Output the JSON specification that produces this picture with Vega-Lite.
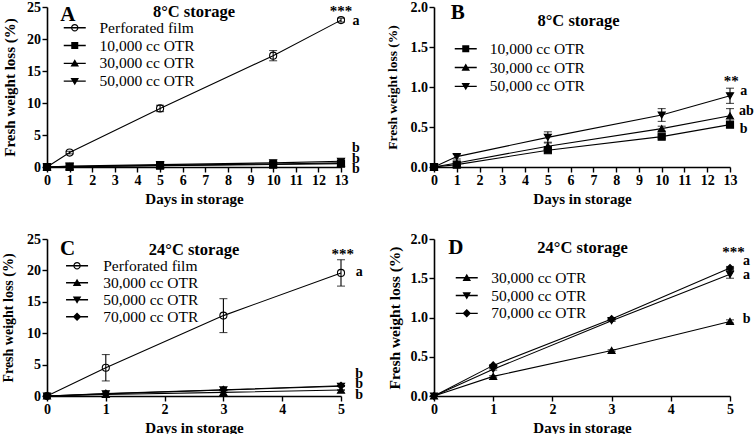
{
  "$schema": "https://vega.github.io/schema/vega-lite/v6.json",
  "padding": {"left": 1, "top": 0, "right": 0, "bottom": 0},
  "background": "white",
  "datasets": {
    "d8": [
      {"series": "Perforated film", "day": 0, "loss": 0, "err": 0},
      {"series": "Perforated film", "day": 1, "loss": 2.25, "err": 0.2},
      {"series": "Perforated film", "day": 5, "loss": 9.15, "err": 0.5},
      {"series": "Perforated film", "day": 10, "loss": 17.4, "err": 0.8},
      {"series": "Perforated film", "day": 13, "loss": 22.95, "err": 0.3},
      {"series": "10,000 cc OTR", "day": 0, "loss": 0, "err": 0},
      {"series": "10,000 cc OTR", "day": 1, "loss": 0.03, "err": 0},
      {"series": "10,000 cc OTR", "day": 5, "loss": 0.21, "err": 0.02},
      {"series": "10,000 cc OTR", "day": 10, "loss": 0.38, "err": 0.02},
      {"series": "10,000 cc OTR", "day": 13, "loss": 0.53, "err": 0.03},
      {"series": "30,000 cc OTR", "day": 0, "loss": 0, "err": 0},
      {"series": "30,000 cc OTR", "day": 1, "loss": 0.05, "err": 0},
      {"series": "30,000 cc OTR", "day": 5, "loss": 0.26, "err": 0.05},
      {"series": "30,000 cc OTR", "day": 10, "loss": 0.48, "err": 0.03},
      {"series": "30,000 cc OTR", "day": 13, "loss": 0.64, "err": 0.09},
      {"series": "50,000 cc OTR", "day": 0, "loss": 0, "err": 0},
      {"series": "50,000 cc OTR", "day": 1, "loss": 0.13, "err": 0.03},
      {"series": "50,000 cc OTR", "day": 5, "loss": 0.37, "err": 0.07},
      {"series": "50,000 cc OTR", "day": 10, "loss": 0.65, "err": 0.08},
      {"series": "50,000 cc OTR", "day": 13, "loss": 0.89, "err": 0.095}
    ],
    "d24": [
      {"series": "Perforated film", "day": 0, "loss": 0, "err": 0},
      {"series": "Perforated film", "day": 1, "loss": 4.5, "err": 2.1},
      {"series": "Perforated film", "day": 3, "loss": 12.8, "err": 2.7},
      {"series": "Perforated film", "day": 5, "loss": 19.6, "err": 2.1},
      {"series": "30,000 cc OTR", "day": 0, "loss": 0, "err": 0},
      {"series": "30,000 cc OTR", "day": 1, "loss": 0.25, "err": 0.01},
      {"series": "30,000 cc OTR", "day": 3, "loss": 0.58, "err": 0.01},
      {"series": "30,000 cc OTR", "day": 5, "loss": 0.95, "err": 0.02},
      {"series": "50,000 cc OTR", "day": 0, "loss": 0, "err": 0},
      {"series": "50,000 cc OTR", "day": 1, "loss": 0.34, "err": 0.01},
      {"series": "50,000 cc OTR", "day": 3, "loss": 0.96, "err": 0.01},
      {"series": "50,000 cc OTR", "day": 5, "loss": 1.55, "err": 0.05},
      {"series": "70,000 cc OTR", "day": 0, "loss": 0, "err": 0},
      {"series": "70,000 cc OTR", "day": 1, "loss": 0.39, "err": 0.01},
      {"series": "70,000 cc OTR", "day": 3, "loss": 0.98, "err": 0.01},
      {"series": "70,000 cc OTR", "day": 5, "loss": 1.63, "err": 0.02}
    ],
    "annA": [
      {"kind": "panel", "label": "A", "day": 0.92, "v": 23.75},
      {"kind": "title", "label": "8°C storage", "day": 6.5, "v": 24.2},
      {"kind": "stars", "label": "***", "day": 13.0, "v": 24.3},
      {"kind": "letter", "label": "a", "day": 13.66, "v": 22.8},
      {"kind": "letter", "label": "b", "day": 13.66, "v": 3.0},
      {"kind": "letter", "label": "b", "day": 13.66, "v": 1.3},
      {"kind": "letter", "label": "b", "day": 13.66, "v": -0.3}
    ],
    "annB": [
      {"kind": "panel", "label": "B", "day": 1.04, "v": 1.93},
      {"kind": "title", "label": "8°C storage", "day": 6.35, "v": 1.82},
      {"kind": "stars", "label": "**", "day": 13.05, "v": 1.07},
      {"kind": "letter", "label": "a", "day": 13.6, "v": 0.95},
      {"kind": "letter", "label": "ab", "day": 13.72, "v": 0.7},
      {"kind": "letter", "label": "b", "day": 13.6, "v": 0.48}
    ],
    "annC": [
      {"kind": "panel", "label": "C", "day": 0.35, "v": 23.4},
      {"kind": "title", "label": "24°C storage", "day": 2.5, "v": 23.2},
      {"kind": "stars", "label": "***", "day": 5.03, "v": 22.6},
      {"kind": "letter", "label": "a", "day": 5.31, "v": 19.7},
      {"kind": "letter", "label": "b", "day": 5.31, "v": 3.55},
      {"kind": "letter", "label": "b", "day": 5.31, "v": 1.96},
      {"kind": "letter", "label": "b", "day": 5.31, "v": 0.2}
    ],
    "annD": [
      {"kind": "panel", "label": "D", "day": 0.37, "v": 1.88},
      {"kind": "title", "label": "24°C storage", "day": 2.51, "v": 1.885},
      {"kind": "stars", "label": "***", "day": 5.06, "v": 1.84},
      {"kind": "letter", "label": "a", "day": 5.28, "v": 1.72},
      {"kind": "letter", "label": "a", "day": 5.28, "v": 1.545},
      {"kind": "letter", "label": "b", "day": 5.28, "v": 0.985}
    ]
  },
  "columns": 2,
  "bounds": "flush",
  "spacing": {"row": 72, "column": 93},
  "resolve": {
    "scale": {"x": "independent", "y": "independent", "shape": "independent", "size": "independent"},
    "legend": {"shape": "independent"},
    "axis": {"x": "independent", "y": "independent"}
  },
  "concat": [
    {
      "width": 294, "height": 160,
      "resolve": {"scale": {"shape": "independent"}},
      "encoding": {
        "x": {"field": "day", "type": "quantitative", "scale": {"domain": [0, 13], "nice": false},
              "axis": {"values": [0,1,2,3,4,5,6,7,8,9,10,11,12,13], "title": "Days in storage", "titlePadding": 4}},
        "y": {"field": "loss", "type": "quantitative", "scale": {"domain": [0, 25], "nice": false},
              "axis": {"values": [0,5,10,15,20,25], "format": "d", "title": "Fresh weight loss (%)", "titlePadding": 9.5, "titleFontSize": 15}}
      },
      "layer": [
        {
          "data": {"name": "d8"},
          "mark": {"type": "line", "color": "black", "strokeWidth": 1.1},
          "encoding": {"detail": {"field": "series"}}
        },
        {
          "data": {"name": "d8"},
          "transform": [{"filter": "datum.err > 0"}],
          "mark": {"type": "errorbar", "ticks": {"size": 8}, "color": "black", "thickness": 1.1},
          "encoding": {"yError": {"field": "err"}}
        },
        {
          "data": {"name": "d8"},
          "mark": {"type": "point", "filled": true, "stroke": "black", "strokeWidth": 1.1, "opacity": 1, "size": 50},
          "encoding": {
            "fill": {"condition": {"test": "datum.series === 'Perforated film'", "value": "transparent"}, "value": "black"},
            "shape": {"field": "series", "type": "nominal", "legend": null,
              "scale": {"domain": ["Perforated film", "10,000 cc OTR", "30,000 cc OTR", "50,000 cc OTR"], "range": ["circle", "square", "triangle-up", "triangle-down"]}}
          }
        },
        {
          "data": {"name": "d8"},
          "mark": {"type": "point", "filled": true, "color": "black", "size": 0},
          "encoding": {
            "shape": {"field": "series", "type": "nominal",
              "scale": {"domain": ["Perforated film", "10,000 cc OTR", "30,000 cc OTR", "50,000 cc OTR"],
                "range": ["M-2.2,-0.14H2.2V0.14H-2.2ZM0.74,0A0.74,0.74,0,1,1,-0.74,0A0.74,0.74,0,1,1,0.74,0ZM0.52,0A0.52,0.52,0,1,0,-0.52,0A0.52,0.52,0,1,0,0.52,0Z", "M-2.2,-0.14H2.2V0.14H-2.2ZM-0.7,-0.7H0.7V0.7H-0.7Z", "M-2.2,-0.14H2.2V0.14H-2.2ZM0,-0.8L0.85,0.65H-0.85Z", "M-2.2,-0.14H2.2V0.14H-2.2ZM0,0.8L-0.85,-0.65H0.85Z"]},
              "legend": {"orient": "none", "legendX": 20, "legendY": 13, "title": null, "padding": 0, "symbolSize": 100, "symbolOffset": 0, "labelOffset": 17, "rowPadding": 0.8, "labelFontSize": 15.5, "labelFont": "Liberation Serif", "labelFontWeight": "normal", "labelColor": "black", "symbolOpacity": 1, "symbolFillColor": "black", "symbolStrokeColor": "transparent", "symbolStrokeWidth": 0}
            }
          }
        },
        {
          "data": {"name": "annA"},
          "mark": {"type": "text", "fontWeight": "bold", "color": "black", "font": "Liberation Serif", "baseline": "middle", "align": "center"},
          "encoding": {
            "y": {"field": "v", "type": "quantitative", "scale": {"domain": [0, 25], "nice": false},
                  "axis": {"values": [0,5,10,15,20,25], "format": "d", "title": "Fresh weight loss (%)", "titlePadding": 9.5, "titleFontSize": 15}},
            "text": {"field": "label"},
            "size": {"field": "kind", "type": "nominal", "scale": {"type": "ordinal", "domain": ["panel", "title", "letter", "stars"], "range": [21, 16.5, 14, 15]}, "legend": null}
          }
        }
      ]
    },
    {
      "width": 296, "height": 160,
      "resolve": {"scale": {"shape": "independent"}},
      "encoding": {
        "x": {"field": "day", "type": "quantitative", "scale": {"domain": [0, 13], "nice": false},
              "axis": {"values": [0,1,2,3,4,5,6,7,8,9,10,11,12,13], "title": "Days in storage", "titlePadding": 4}},
        "y": {"field": "loss", "type": "quantitative", "scale": {"domain": [0, 2], "nice": false},
              "axis": {"values": [0,0.5,1,1.5,2], "format": ".1f", "title": "Fresh weight loss (%)", "titlePadding": 11, "titleFontSize": 13.5}}
      },
      "layer": [
        {
          "data": {"name": "d8"},
          "transform": [{"filter": "datum.series !== 'Perforated film'"}],
          "mark": {"type": "line", "color": "black", "strokeWidth": 1.1},
          "encoding": {"detail": {"field": "series"}}
        },
        {
          "data": {"name": "d8"},
          "transform": [{"filter": "datum.series !== 'Perforated film' && datum.err > 0"}],
          "mark": {"type": "errorbar", "ticks": {"size": 8}, "color": "black", "thickness": 1.1},
          "encoding": {"yError": {"field": "err"}}
        },
        {
          "data": {"name": "d8"},
          "transform": [{"filter": "datum.series !== 'Perforated film'"}],
          "mark": {"type": "point", "filled": true, "stroke": "black", "strokeWidth": 1.1, "opacity": 1, "size": 50},
          "encoding": {
            "fill": {"value": "black"},
            "shape": {"field": "series", "type": "nominal", "legend": null,
              "scale": {"domain": ["10,000 cc OTR", "30,000 cc OTR", "50,000 cc OTR"], "range": ["square", "triangle-up", "triangle-down"]}}
          }
        },
        {
          "data": {"name": "d8"},
          "transform": [{"filter": "datum.series !== 'Perforated film'"}],
          "mark": {"type": "point", "filled": true, "color": "black", "size": 0},
          "encoding": {
            "shape": {"field": "series", "type": "nominal",
              "scale": {"domain": ["10,000 cc OTR", "30,000 cc OTR", "50,000 cc OTR"],
                "range": ["M-2.2,-0.14H2.2V0.14H-2.2ZM-0.7,-0.7H0.7V0.7H-0.7Z", "M-2.2,-0.14H2.2V0.14H-2.2ZM0,-0.8L0.85,0.65H-0.85Z", "M-2.2,-0.14H2.2V0.14H-2.2ZM0,0.8L-0.85,-0.65H0.85Z"]},
              "legend": {"orient": "none", "legendX": 24, "legendY": 34, "title": null, "padding": 0, "symbolSize": 100, "symbolOffset": 0, "labelOffset": 16.3, "rowPadding": 1.8, "labelFontSize": 15.5, "labelFont": "Liberation Serif", "labelFontWeight": "normal", "labelColor": "black", "symbolOpacity": 1, "symbolFillColor": "black", "symbolStrokeColor": "transparent", "symbolStrokeWidth": 0}
            }
          }
        },
        {
          "data": {"name": "annB"},
          "mark": {"type": "text", "fontWeight": "bold", "color": "black", "font": "Liberation Serif", "baseline": "middle", "align": "center"},
          "encoding": {
            "y": {"field": "v", "type": "quantitative", "scale": {"domain": [0, 2], "nice": false},
                  "axis": {"values": [0,0.5,1,1.5,2], "format": ".1f", "title": "Fresh weight loss (%)", "titlePadding": 11, "titleFontSize": 13.5}},
            "text": {"field": "label"},
            "size": {"field": "kind", "type": "nominal", "scale": {"type": "ordinal", "domain": ["panel", "title", "letter", "stars"], "range": [21, 16.5, 14, 15]}, "legend": null}
          }
        }
      ]
    },
    {
      "width": 294, "height": 157,
      "resolve": {"scale": {"shape": "independent"}},
      "encoding": {
        "x": {"field": "day", "type": "quantitative", "scale": {"domain": [0, 5], "nice": false},
              "axis": {"values": [0,1,2,3,4,5], "format": "d", "title": "Days in storage", "titlePadding": 4}},
        "y": {"field": "loss", "type": "quantitative", "scale": {"domain": [0, 25], "nice": false},
              "axis": {"values": [0,5,10,15,20,25], "format": "d", "title": "Fresh weight loss (%)", "titlePadding": 11, "titleFontSize": 14}}
      },
      "layer": [
        {
          "data": {"name": "d24"},
          "mark": {"type": "line", "color": "black", "strokeWidth": 1.1},
          "encoding": {"detail": {"field": "series"}}
        },
        {
          "data": {"name": "d24"},
          "transform": [{"filter": "datum.err > 0"}],
          "mark": {"type": "errorbar", "ticks": {"size": 8}, "color": "black", "thickness": 1.1},
          "encoding": {"yError": {"field": "err"}}
        },
        {
          "data": {"name": "d24"},
          "mark": {"type": "point", "filled": true, "stroke": "black", "strokeWidth": 1.1, "opacity": 1, "size": 50},
          "encoding": {
            "fill": {"condition": {"test": "datum.series === 'Perforated film'", "value": "transparent"}, "value": "black"},
            "shape": {"field": "series", "type": "nominal", "legend": null,
              "scale": {"domain": ["Perforated film", "30,000 cc OTR", "50,000 cc OTR", "70,000 cc OTR"], "range": ["circle", "triangle-up", "triangle-down", "diamond"]}}
          }
        },
        {
          "data": {"name": "d24"},
          "mark": {"type": "point", "filled": true, "color": "black", "size": 0},
          "encoding": {
            "shape": {"field": "series", "type": "nominal",
              "scale": {"domain": ["Perforated film", "30,000 cc OTR", "50,000 cc OTR", "70,000 cc OTR"],
                "range": ["M-2.2,-0.14H2.2V0.14H-2.2ZM0.74,0A0.74,0.74,0,1,1,-0.74,0A0.74,0.74,0,1,1,0.74,0ZM0.52,0A0.52,0.52,0,1,0,-0.52,0A0.52,0.52,0,1,0,0.52,0Z", "M-2.2,-0.14H2.2V0.14H-2.2ZM0,-0.8L0.85,0.65H-0.85Z", "M-2.2,-0.14H2.2V0.14H-2.2ZM0,0.8L-0.85,-0.65H0.85Z", "M-2.2,-0.14H2.2V0.14H-2.2ZM0,-0.85L0.85,0L0,0.85L-0.85,0Z"]},
              "legend": {"orient": "none", "legendX": 22.3, "legendY": 19, "title": null, "padding": 0, "symbolSize": 100, "symbolOffset": 0, "labelOffset": 18.4, "rowPadding": 0, "labelFontSize": 15.5, "labelFont": "Liberation Serif", "labelFontWeight": "normal", "labelColor": "black", "symbolOpacity": 1, "symbolFillColor": "black", "symbolStrokeColor": "transparent", "symbolStrokeWidth": 0}
            }
          }
        },
        {
          "data": {"name": "annC"},
          "mark": {"type": "text", "fontWeight": "bold", "color": "black", "font": "Liberation Serif", "baseline": "middle", "align": "center"},
          "encoding": {
            "y": {"field": "v", "type": "quantitative", "scale": {"domain": [0, 25], "nice": false},
                  "axis": {"values": [0,5,10,15,20,25], "format": "d", "title": "Fresh weight loss (%)", "titlePadding": 11, "titleFontSize": 14}},
            "text": {"field": "label"},
            "size": {"field": "kind", "type": "nominal", "scale": {"type": "ordinal", "domain": ["panel", "title", "letter", "stars"], "range": [21, 16.5, 14, 15]}, "legend": null}
          }
        }
      ]
    },
    {
      "width": 296, "height": 157,
      "resolve": {"scale": {"shape": "independent"}},
      "encoding": {
        "x": {"field": "day", "type": "quantitative", "scale": {"domain": [0, 5], "nice": false},
              "axis": {"values": [0,1,2,3,4,5], "format": "d", "title": "Days in storage", "titlePadding": 4}},
        "y": {"field": "loss", "type": "quantitative", "scale": {"domain": [0, 2], "nice": false},
              "axis": {"values": [0,0.5,1,1.5,2], "format": ".1f", "title": "Fresh weight loss (%)", "titlePadding": 8, "titleFontSize": 15.5}}
      },
      "layer": [
        {
          "data": {"name": "d24"},
          "transform": [{"filter": "datum.series !== 'Perforated film'"}],
          "mark": {"type": "line", "color": "black", "strokeWidth": 1.1},
          "encoding": {"detail": {"field": "series"}}
        },
        {
          "data": {"name": "d24"},
          "transform": [{"filter": "datum.series !== 'Perforated film' && datum.err > 0"}],
          "mark": {"type": "errorbar", "ticks": {"size": 8}, "color": "black", "thickness": 1.1},
          "encoding": {"yError": {"field": "err"}}
        },
        {
          "data": {"name": "d24"},
          "transform": [{"filter": "datum.series !== 'Perforated film'"}],
          "mark": {"type": "point", "filled": true, "stroke": "black", "strokeWidth": 1.1, "opacity": 1, "size": 50},
          "encoding": {
            "fill": {"value": "black"},
            "shape": {"field": "series", "type": "nominal", "legend": null,
              "scale": {"domain": ["30,000 cc OTR", "50,000 cc OTR", "70,000 cc OTR"], "range": ["triangle-up", "triangle-down", "diamond"]}}
          }
        },
        {
          "data": {"name": "d24"},
          "transform": [{"filter": "datum.series !== 'Perforated film'"}],
          "mark": {"type": "point", "filled": true, "color": "black", "size": 0},
          "encoding": {
            "shape": {"field": "series", "type": "nominal",
              "scale": {"domain": ["30,000 cc OTR", "50,000 cc OTR", "70,000 cc OTR"],
                "range": ["M-2.2,-0.14H2.2V0.14H-2.2ZM0,-0.8L0.85,0.65H-0.85Z", "M-2.2,-0.14H2.2V0.14H-2.2ZM0,0.8L-0.85,-0.65H0.85Z", "M-2.2,-0.14H2.2V0.14H-2.2ZM0,-0.85L0.85,0L0,0.85L-0.85,0Z"]},
              "legend": {"orient": "none", "legendX": 25, "legendY": 31, "title": null, "padding": 0, "symbolSize": 100, "symbolOffset": 0, "labelOffset": 16.7, "rowPadding": 0.8, "labelFontSize": 15.5, "labelFont": "Liberation Serif", "labelFontWeight": "normal", "labelColor": "black", "symbolOpacity": 1, "symbolFillColor": "black", "symbolStrokeColor": "transparent", "symbolStrokeWidth": 0}
            }
          }
        },
        {
          "data": {"name": "annD"},
          "mark": {"type": "text", "fontWeight": "bold", "color": "black", "font": "Liberation Serif", "baseline": "middle", "align": "center"},
          "encoding": {
            "y": {"field": "v", "type": "quantitative", "scale": {"domain": [0, 2], "nice": false},
                  "axis": {"values": [0,0.5,1,1.5,2], "format": ".1f", "title": "Fresh weight loss (%)", "titlePadding": 8, "titleFontSize": 15.5}},
            "text": {"field": "label"},
            "size": {"field": "kind", "type": "nominal", "scale": {"type": "ordinal", "domain": ["panel", "title", "letter", "stars"], "range": [21, 16.5, 14, 15]}, "legend": null}
          }
        }
      ]
    }
  ],
  "config": {
    "font": "Liberation Serif",
    "view": {"stroke": null},
    "axis": {
      "grid": false, "domainColor": "black", "domainWidth": 1.6, "tickColor": "black", "tickWidth": 1.4, "tickSize": 5,
      "labelFont": "Liberation Serif", "labelFontWeight": "bold", "labelFontSize": 14, "labelColor": "black", "labelPadding": 1.5,
      "labelFlush": false, "labelOverlap": false, "labelBound": false,
      "titleFont": "Liberation Serif", "titleFontWeight": "bold", "titleFontSize": 15, "titleColor": "black"
    }
  }
}
